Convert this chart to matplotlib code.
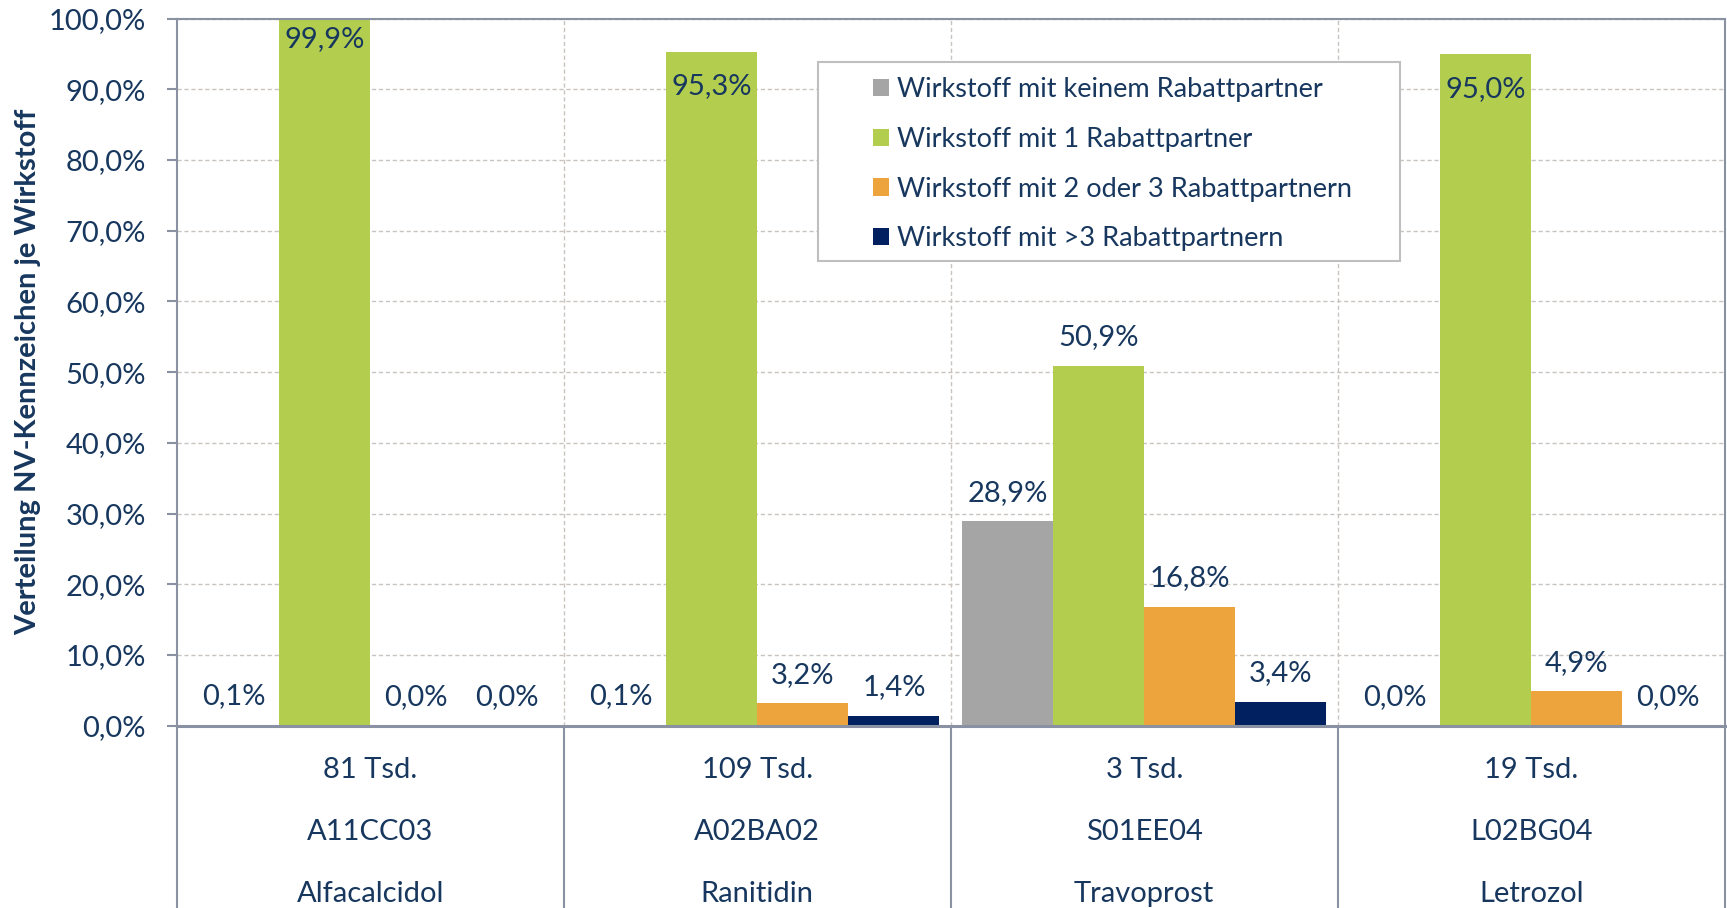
import matplotlib
matplotlib.use("Agg")
import matplotlib.pyplot as plt
from matplotlib.patches import Rectangle
import numpy as np

# ---- data ----
counts = ["81 Tsd.", "109 Tsd.", "3 Tsd.", "19 Tsd."]
atc_codes = ["A11CC03", "A02BA02", "S01EE04", "L02BG04"]
substances = ["Alfacalcidol", "Ranitidin", "Travoprost", "Letrozol"]
series_names = [
    "Wirkstoff mit keinem Rabattpartner",
    "Wirkstoff mit 1 Rabattpartner",
    "Wirkstoff mit 2 oder 3 Rabattpartnern",
    "Wirkstoff mit >3 Rabattpartnern",
]
share_none = [0.1, 0.1, 28.9, 0.0]
share_one = [99.9, 95.3, 50.9, 95.0]
share_two_three = [0.0, 3.2, 16.8, 4.9]
share_more = [0.0, 1.4, 3.4, 0.0]
y_ticks = [0, 10, 20, 30, 40, 50, 60, 70, 80, 90, 100]
y_label = "Verteilung NV-Kennzeichen je Wirkstoff"

# ---- style ----
W, H, DPI = 1727, 908, 100
TXT = "#17375E"
AXC = "#8A91A2"
GRID = "#C9C4BF"
colors = ["#A5A5A5", "#B3CD4E", "#EDA43C", "#002060"]
FONT = "Lato"
FS = 21
LEG_FS = 19.5

plt.rcParams["font.family"] = [FONT, "DejaVu Sans"]

fig = plt.figure(figsize=(W / DPI, H / DPI), dpi=DPI)
ax_l, ax_r, ax_t, ax_b = 176.7, 1724.7, 18.6, 725.7
ax = fig.add_axes([ax_l / W, 1 - ax_b / H, (ax_r - ax_l) / W, (ax_b - ax_t) / H])
ax_h_px = ax_b - ax_t

n_groups = len(counts)
x = np.arange(n_groups) + 0.5
bw = 0.2355
offsets = (np.arange(4) - 1.5) * bw
all_series = [share_none, share_one, share_two_three, share_more]

ax.set_xlim(0, n_groups)
ax.set_ylim(0, 100)

# grid
ax.set_yticks(y_ticks)
ax.set_yticklabels([f"{v:.1f}".replace(".", ",") + "%" for v in y_ticks])
ax.yaxis.grid(True, color=GRID, linestyle=(0, (3, 2)), linewidth=1.0, zorder=0)
ax.set_axisbelow(True)
ax.vlines(np.arange(1, n_groups), 0, 1, transform=ax.get_xaxis_transform(),
          colors=GRID, linestyles=(0, (3, 2)), linewidth=1.0, zorder=0.5)

for i, (vals, col, name) in enumerate(zip(all_series, colors, series_names)):
    ax.bar(x + offsets[i], vals, width=bw, color=col, label=name, zorder=2,
           linewidth=0)

# value labels
px2pt = 72.0 / DPI
for i, vals in enumerate(all_series):
    for j, v in enumerate(vals):
        txt = f"{v:.1f}".replace(".", ",") + "%"
        if v >= 90:
            off = -27.4 if v > 99 else -42.7
        else:
            off = 20.5
        ax.annotate(txt, (x[j] + offsets[i], v), xytext=(0, off * px2pt),
                    textcoords="offset points", ha="center", va="baseline",
                    fontsize=FS, color=TXT, zorder=4)

# spines
for s in ["left", "top", "right", "bottom"]:
    ax.spines[s].set_color(AXC)
    ax.spines[s].set_linewidth(1.5)
ax.spines["bottom"].set_linewidth(2.2)
ax.set_xticks([])
ax.tick_params(axis="y", length=10 * px2pt, width=1.5, color=AXC,
               pad=21 * px2pt, labelsize=FS, labelcolor=TXT)

# category table below the axis
ax.vlines(np.arange(0, n_groups + 1), -0.3, 0, transform=ax.get_xaxis_transform(),
          colors=AXC, linewidth=1.5, clip_on=False, zorder=3)
rows = [counts, atc_codes, substances]
row_baselines = [778, 840, 902]
for r, labels in enumerate(rows):
    yf = (ax_b - row_baselines[r]) / ax_h_px
    for j, lab in enumerate(labels):
        ax.text(x[j], yf, lab, transform=ax.get_xaxis_transform(), ha="center",
                va="baseline", fontsize=FS, color=TXT, clip_on=False)

# legend box
lx0, lx1, ly0, ly1 = 818, 1400, 62, 261
rect = Rectangle((lx0 / W, 1 - ly1 / H), (lx1 - lx0) / W, (ly1 - ly0) / H,
                 transform=fig.transFigure, facecolor="white", edgecolor="#BFBFBF",
                 linewidth=1.5, zorder=5, clip_on=False)
ax.add_patch(rect)
leg = ax.legend(loc="upper left", bbox_to_anchor=(873 / W, 1 - 77 / H),
                bbox_transform=fig.transFigure, frameon=False, fontsize=LEG_FS,
                handlelength=0.59, handleheight=0.59, handletextpad=0.3,
                labelspacing=0.915, borderpad=0, borderaxespad=0)
leg.set_zorder(6)
for t in leg.get_texts():
    t.set_color(TXT)

fig.text(28.5 / W, 1 - 371.5 / H, y_label, rotation=90, ha="center", va="center",
         fontsize=FS, fontweight="bold", color=TXT)

fig.savefig("out.png", dpi=DPI)
